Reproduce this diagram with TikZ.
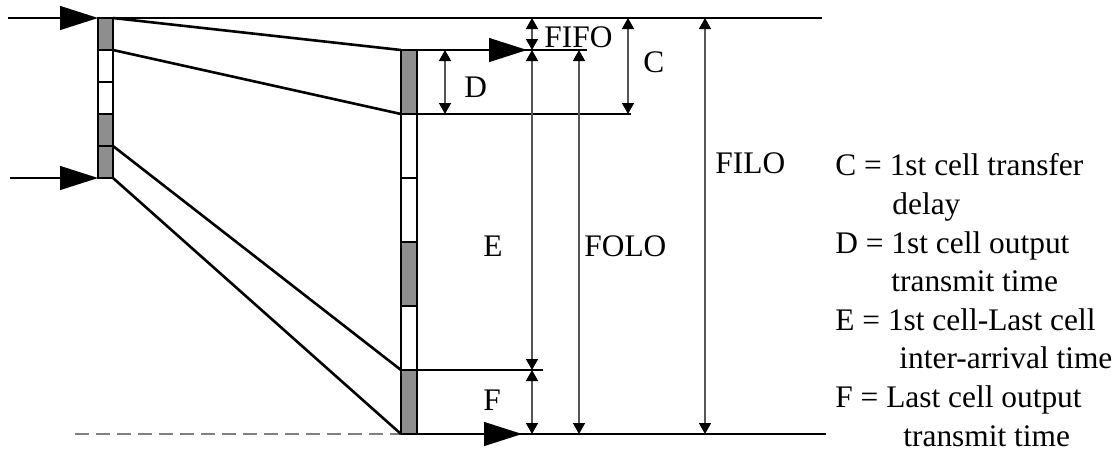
\documentclass[tikz,border=0pt]{standalone}
\usepackage{fontspec}
\setmainfont{Liberation Serif}
\usetikzlibrary{arrows.meta}
\definecolor{cellgray}{HTML}{8E8E8E}
\definecolor{dimgray}{HTML}{555555}

\begin{document}
\begin{tikzpicture}[x=0.5pt, y=-0.5pt,
  cell/.style={draw, rectangle, line width=1.4pt, inner sep=0pt, outer sep=0pt},
  lcell/.style={cell, minimum width=7.5pt, minimum height=16pt},
  rcell/.style={cell, minimum width=8pt, minimum height=32pt},
  link/.style={line width=1.3pt},
  hline/.style={line width=0.65pt},
  flow/.style={line width=0.65pt, -{Triangle[length=19pt,width=12pt]}},
  dim/.style={draw=dimgray, line width=0.75pt,
    {Triangle[length=5.5pt,width=6pt,color=black]}-{Triangle[length=5.5pt,width=6pt,color=black]}},
  lbl/.style={font=\fontsize{15.7}{19.3}\selectfont, inner sep=0pt, anchor=base west}]
\useasboundingbox (0,0) rectangle (1120,452);

% Cells
\foreach \c [count=\i] in {cellgray,white,white,cellgray,cellgray}
  \node[lcell, fill=\c] (L\i) at (105.5,2+32*\i) {};
\foreach \c [count=\i] in {cellgray,white,white,cellgray,white,cellgray}
  \node[rcell, fill=\c] (R\i) at (409,18+64*\i) {};

% Free ends
\coordinate (in1) at (8,18);
\coordinate (in2) at (10,178);
\coordinate (topend) at (822,18);
\coordinate (botend) at (826,434);
\coordinate (dashstart) at (75,434);
\coordinate (out1) at (527,50);
\coordinate (out1end) at (587,50);
\coordinate (out2) at (522,434);
\coordinate (cline) at (631,114);
\coordinate (eline) at (543,370);

% Input and output
\draw[flow] (in1) -- (L1.north west);
\draw[flow] (in2) -- (L5.south west);
\draw[hline] (L1.north east) -- (topend);
\draw[hline] (R1.north east) -- (out1end);
\draw[flow] (R1.north east) -- (out1);
\draw[hline] (R6.south east) -- (botend);
\draw[flow] (R6.south east) -- (out2);
\draw[hline] (R1.south east) -- (cline);
\draw[hline] (R6.north east) -- (eline);
\draw[line width=0.65pt, draw=gray, dash pattern=on 7pt off 3.5pt] (dashstart) -- (R6.south west);

% Cell paths
\draw[link] (L1.north east) -- (R1.north west);
\draw[link] (L2.north east) -- (R2.north west);
\draw[link] (L5.north east) -- (R6.north west);
\draw[link] (L5.south east) -- (R6.south west);

% Dimensions
\draw[dim] (532,18) -- (532,50);
\draw[dim] (628,18) -- (628,114);
\draw[dim] (445,50) -- (445,114);
\draw[dim] (532,50) -- (532,370);
\draw[dim] (532,370) -- (532,434);
\draw[dim] (579,50) -- (579,434);
\draw[dim] (705,18) -- (705,434);

\node[lbl] (fifo) at (544,47) {FIFO};
\node[lbl] (c) at (643,72) {C};
\node[lbl] (d) at (464,97) {D};
\node[lbl] (e) at (483,256) {E};
\node[lbl] (f) at (483,410) {F};
\node[lbl] (folo) at (584,256) {FOLO};
\node[lbl] (filo) at (715,173) {FILO};

% Key
\node[lbl, align=left] (key) at (835,446) {C = 1st cell transfer\\
\hspace*{28.5pt}delay\\
D = 1st cell output\\
\hspace*{28pt}transmit time\\
E = 1st cell-Last cell\\
\hspace*{32pt}inter-arrival time\\
F = Last cell output\\
\hspace*{34pt}transmit time};

\end{tikzpicture}
\end{document}
